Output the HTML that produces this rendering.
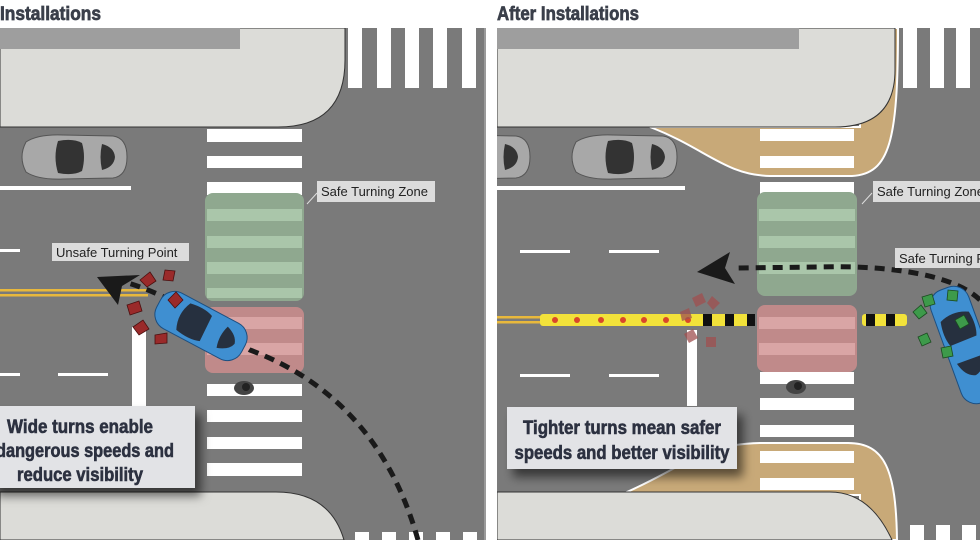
<!DOCTYPE html>
<html><head><meta charset="utf-8"><style>
html,body{margin:0;padding:0;background:#fff}
svg{display:block}
.t{font-family:"Liberation Sans",sans-serif;font-weight:bold;fill:#3a3f4a;stroke:#3a3f4a;stroke-width:0.7}
.lb{font-family:"Liberation Sans",sans-serif;font-size:13px;fill:#222}
.big{font-family:"Liberation Sans",sans-serif;font-weight:bold;font-size:19px;fill:#2c3140;stroke:#2c3140;stroke-width:0.6}
</style></head><body>
<svg width="980" height="550" viewBox="0 0 980 550" xmlns="http://www.w3.org/2000/svg">
<defs>
<filter id="sh" x="-20%" y="-20%" width="150%" height="160%"><feDropShadow dx="6" dy="8" stdDeviation="5" flood-color="#000" flood-opacity="0.55"/></filter>
<g id="gcar">
<path d="M8,8 Q20,0 45,1 L95,2 Q109,4 109,23 Q109,42 95,44 L45,45 Q20,46 8,38 Q0,23 8,8Z" fill="#a8a8a8" stroke="#555" stroke-width="1"/>
<path d="M40,7 Q55,4 64,9 Q68,23 64,37 Q55,42 40,39 Q35,23 40,7Z" fill="#333"/>
<path d="M84,10 Q96,13 97,23 Q96,33 84,36 Q81,23 84,10Z" fill="#333"/>
</g>
</defs>
<text class="t" x="0" y="20" font-size="19" textLength="101" lengthAdjust="spacingAndGlyphs">Installations</text>
<text class="t" x="497" y="20" font-size="19" textLength="142" lengthAdjust="spacingAndGlyphs">After Installations</text>

<!-- LEFT PANEL -->
<svg x="0" y="28" width="486" height="512" viewBox="0 28 486 512">
<rect x="0" y="28" width="486" height="512" fill="#7a7a7a"/>
<path d="M0,28 H345 V60 Q345,127 278,127 H0Z" fill="#dcdcd8" stroke="#333" stroke-width="1"/>
<rect x="0" y="28" width="240" height="21" fill="#9e9e9e"/>
<g fill="#fff"><rect x="348" y="28" width="14" height="60"/><rect x="377" y="28" width="14" height="60"/><rect x="405" y="28" width="14" height="60"/><rect x="433" y="28" width="14" height="60"/><rect x="462" y="28" width="14" height="60"/></g>
<rect x="484" y="28" width="2" height="512" fill="#9a9a9a"/>
<g fill="#fff"><rect x="207" y="129" width="95" height="13"/><rect x="207" y="156" width="95" height="12"/><rect x="207" y="182" width="95" height="13"/>
<rect x="207" y="384" width="95" height="12"/><rect x="207" y="410" width="95" height="12"/><rect x="207" y="437" width="95" height="12"/><rect x="207" y="463" width="95" height="13"/></g>
<rect x="205" y="193" width="99" height="108" rx="8" fill="#8fa88f"/>
<g fill="#aac6aa"><rect x="207" y="209" width="95" height="12"/><rect x="207" y="236" width="95" height="12"/><rect x="207" y="262" width="95" height="12"/><rect x="207" y="288" width="95" height="10"/></g>
<rect x="205" y="307" width="99" height="66" rx="8" fill="#c08a8a"/>
<g fill="#d9a5a5"><rect x="207" y="317" width="95" height="12"/><rect x="207" y="343" width="95" height="12"/></g>
<path d="M0,492 H276 Q330,492 344,540 H0Z" fill="#dcdcd8" stroke="#333" stroke-width="1"/>
<g fill="#fff"><rect x="355" y="532" width="14" height="8"/><rect x="382" y="532" width="14" height="8"/><rect x="409" y="532" width="14" height="8"/><rect x="436" y="532" width="14" height="8"/><rect x="463" y="532" width="14" height="8"/></g>
<rect x="0" y="186" width="131" height="4" fill="#fff"/>
<rect x="0" y="249" width="20" height="3" fill="#fff"/>
<rect x="0" y="373" width="20" height="3" fill="#fff"/><rect x="58" y="373" width="50" height="3" fill="#fff"/>
<rect x="0" y="289" width="148" height="2.5" fill="#e8b83c"/><rect x="0" y="294" width="148" height="2.5" fill="#e8b83c"/>
<rect x="132" y="327" width="14" height="80" fill="#fff"/>
<use href="#gcar" x="18" y="134"/>
<path d="M418,540 C390,440 330,380 250,350 L170,300 C150,290 135,285 125,282" fill="none" stroke="#1a1a1a" stroke-width="5" stroke-dasharray="10,7"/>
<path d="M97,277 L140,275 L122,286 L118,305Z" fill="#1a1a1a"/>
<g transform="translate(201,326) rotate(28)">
<rect x="-48" y="-20" width="96" height="40" rx="16" fill="#3f8fd1" stroke="#1d4f80"/>
<path d="M-20,-15 Q-5,-18 5,-14 L6,14 Q-5,18 -20,15 Q-27,0 -20,-15Z" fill="#26303f"/>
<path d="M24,-12 Q36,-8 38,0 Q36,8 24,12 Q20,0 24,-12Z" fill="#26303f"/>
</g>
<g fill="#9a2a2a" stroke="#4a1010" stroke-width="0.8">
<path d="M140,280 l10,-8 l6,9 l-9,6z"/><path d="M127,305 l12,-4 l3,10 l-12,4z"/><path d="M133,327 l10,-7 l6,9 l-10,6z"/><path d="M155,335 l12,-2 l0,10 l-12,1z"/><path d="M168,300 l8,-8 l7,8 l-8,8z"/><path d="M165,270 l10,1 l-2,10 l-10,-1z"/>
</g>
<ellipse cx="244" cy="388" rx="10" ry="7" fill="#444"/><circle cx="246" cy="387" r="4" fill="#222"/>
<line x1="307" y1="204" x2="317" y2="193" stroke="#ddd"/>
<rect x="317" y="181" width="118" height="21" fill="#dcdcdc"/><text class="lb" x="321" y="196">Safe Turning Zone</text>
<rect x="52" y="243" width="137" height="18" fill="#dcdcdc"/><text class="lb" x="56" y="257">Unsafe Turning Point</text>
<rect x="-10" y="406" width="205" height="82" fill="#e2e3e6" filter="url(#sh)"/>
<text class="big" text-anchor="middle" x="80" y="433" textLength="146" lengthAdjust="spacingAndGlyphs">Wide turns enable</text>
<text class="big" text-anchor="middle" x="85" y="457" textLength="178" lengthAdjust="spacingAndGlyphs">dangerous speeds and</text>
<text class="big" text-anchor="middle" x="80" y="481" textLength="126" lengthAdjust="spacingAndGlyphs">reduce visibility</text>
</svg>

<!-- RIGHT PANEL -->
<svg x="497" y="28" width="483" height="512" viewBox="497 28 483 512">
<rect x="497" y="28" width="483" height="512" fill="#7a7a7a"/>
<path d="M650,127 C705,148 725,175 770,176 H852 C890,174 898,140 898,28 H860 V127Z" fill="#c8a978" stroke="#fff" stroke-width="2"/>
<path d="M497,28 H895 V70 Q895,127 835,127 H497Z" fill="#dcdcd8" stroke="#333" stroke-width="1"/>
<rect x="497" y="28" width="302" height="21" fill="#9e9e9e"/>
<g fill="#fff"><rect x="903" y="28" width="14" height="60"/><rect x="930" y="28" width="14" height="60"/><rect x="956" y="28" width="14" height="60"/></g>
<g fill="#fff"><rect x="760" y="129" width="94" height="12"/><rect x="760" y="156" width="94" height="12"/><rect x="760" y="182" width="94" height="12"/>
<rect x="760" y="372" width="94" height="12"/><rect x="760" y="398" width="94" height="12"/><rect x="760" y="425" width="94" height="12"/></g>
<rect x="757" y="192" width="100" height="104" rx="8" fill="#8fa88f"/>
<g fill="#aac6aa"><rect x="759" y="209" width="96" height="12"/><rect x="759" y="236" width="96" height="12"/><rect x="759" y="262" width="96" height="12"/></g>
<rect x="757" y="305" width="100" height="67" rx="8" fill="#c08a8a"/>
<g fill="#d9a5a5"><rect x="759" y="317" width="96" height="12"/><rect x="759" y="343" width="96" height="12"/></g>
<path d="M620,495 C680,470 700,444 760,443 H848 C885,443 896,470 897,540 H860 V495Z" fill="#c8a978" stroke="#fff" stroke-width="2"/>
<g fill="#fff"><rect x="760" y="451" width="94" height="12"/><rect x="760" y="478" width="94" height="12"/></g>
<path d="M497,492 H830 Q870,492 892,540 H497Z" fill="#dcdcd8" stroke="#333" stroke-width="1"/>
<g fill="#fff"><rect x="910" y="525" width="14" height="15"/><rect x="936" y="525" width="14" height="15"/><rect x="962" y="525" width="14" height="15"/></g>
<rect x="497" y="186" width="188" height="4" fill="#fff"/>
<g fill="#fff"><rect x="520" y="250" width="50" height="3"/><rect x="609" y="250" width="50" height="3"/><rect x="520" y="374" width="50" height="3"/><rect x="609" y="374" width="50" height="3"/></g>
<rect x="497" y="316" width="50" height="2.5" fill="#e8b83c"/><rect x="497" y="321" width="50" height="2.5" fill="#e8b83c"/>
<rect x="687" y="330" width="10" height="76" fill="#fff"/>
<rect x="540" y="314" width="215" height="12" rx="3" fill="#f2e23a"/>
<rect x="862" y="314" width="45" height="12" rx="3" fill="#f2e23a"/>
<g fill="#111"><rect x="703" y="314" width="9" height="12"/><rect x="725" y="314" width="9" height="12"/><rect x="747" y="314" width="8" height="12"/><rect x="866" y="314" width="9" height="12"/><rect x="886" y="314" width="9" height="12"/></g>
<g fill="#d8482a"><circle cx="555" cy="320" r="3"/><circle cx="577" cy="320" r="3"/><circle cx="601" cy="320" r="3"/><circle cx="623" cy="320" r="3"/><circle cx="644" cy="320" r="3"/><circle cx="666" cy="320" r="3"/><circle cx="688" cy="320" r="3"/></g>
<g fill="#a05050" opacity="0.75"><path d="M692,298 l10,-5 l4,9 l-10,5z"/><path d="M712,296 l8,7 l-7,7 l-6,-7z"/><path d="M680,312 l9,-4 l3,10 l-10,3z"/><path d="M684,334 l9,-5 l5,9 l-9,5z"/><path d="M706,337 l10,0 l0,10 l-10,0z"/></g>
<use href="#gcar" x="568" y="134"/>
<use href="#gcar" x="421" y="134"/>
<path d="M980,300 C955,275 890,265 820,267 L735,268" fill="none" stroke="#1a1a1a" stroke-width="5" stroke-dasharray="10,7"/>
<path d="M697,272 L730,252 L725,268 L735,284Z" fill="#1a1a1a"/>
<g transform="translate(965,345) rotate(70)">
<rect x="-60" y="-20" width="120" height="40" rx="16" fill="#3f8fd1" stroke="#1d4f80"/>
<path d="M-30,-15 Q-15,-18 -5,-14 L-4,14 Q-15,18 -30,15 Q-37,0 -30,-15Z" fill="#26303f"/>
<path d="M15,-14 Q30,-10 32,0 Q30,10 15,14 Z" fill="#26303f"/>
</g>
<g fill="#3d9a4a" stroke="#1b4a20" stroke-width="0.8"><path d="M913,312 l8,-7 l6,8 l-8,6z"/><path d="M922,297 l10,-3 l3,10 l-10,3z"/><path d="M918,337 l9,-4 l4,9 l-9,4z"/><path d="M941,348 l10,-2 l2,10 l-10,2z"/><path d="M948,290 l10,1 l-1,10 l-10,-1z"/><path d="M955,320 l9,-5 l5,9 l-9,5z"/></g>
<ellipse cx="796" cy="387" rx="10" ry="7" fill="#444"/><circle cx="798" cy="386" r="4" fill="#222"/>
<line x1="862" y1="204" x2="872" y2="193" stroke="#ddd"/>
<rect x="873" y="181" width="110" height="21" fill="#dcdcdc"/><text class="lb" x="877" y="196">Safe Turning Zone</text>
<rect x="895" y="248" width="90" height="20" fill="#dcdcdc"/><text class="lb" x="899" y="263">Safe Turning Point</text>
<rect x="507" y="407" width="230" height="62" fill="#e2e3e6" filter="url(#sh)"/>
<text class="big" text-anchor="middle" x="622" y="434" textLength="198" lengthAdjust="spacingAndGlyphs">Tighter turns mean safer</text>
<text class="big" text-anchor="middle" x="622" y="459" textLength="215" lengthAdjust="spacingAndGlyphs">speeds and better visibility</text>
</svg>
</svg>
</body></html>
